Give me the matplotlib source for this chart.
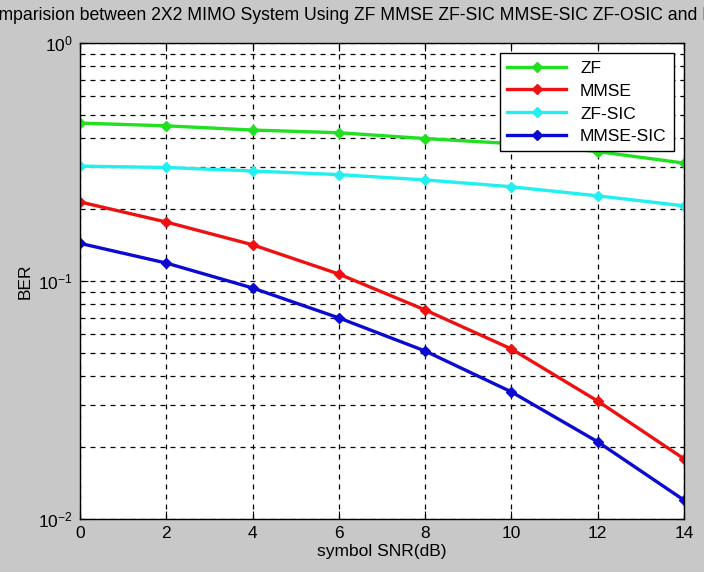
import matplotlib
matplotlib.use("Agg")
import matplotlib.pyplot as plt
from matplotlib.ticker import LogLocator, NullFormatter

plt.rcParams['font.family'] = ['Liberation Sans', 'DejaVu Sans']
plt.rcParams['mathtext.fontset'] = 'custom'
plt.rcParams['mathtext.rm'] = 'Liberation Sans'
plt.rcParams['mathtext.it'] = 'Liberation Sans'

# 数据
snr_db = [0, 2, 4, 6, 8, 10, 12, 14]
ber_zf = [0.461, 0.449, 0.431, 0.420, 0.397, 0.378, 0.350, 0.313]
ber_mmse = [0.215, 0.177, 0.142, 0.107, 0.0756, 0.0518, 0.0313, 0.0179]
ber_zf_sic = [0.304, 0.300, 0.290, 0.280, 0.266, 0.249, 0.228, 0.207]
ber_mmse_sic = [0.144, 0.119, 0.0935, 0.070, 0.0508, 0.0342, 0.0211, 0.0120]

series = [
    ("ZF", ber_zf, "#20e020"),
    ("MMSE", ber_mmse, "#ee1111"),
    ("ZF-SIC", ber_zf_sic, "#22f0f0"),
    ("MMSE-SIC", ber_mmse_sic, "#0a0ad0"),
]

fig = plt.figure(figsize=(7.04, 5.72), dpi=100, facecolor="#c8c8c8")
ax = fig.add_axes([0.1136, 0.0927, 0.858, 0.832])
ax.set_facecolor("white")

for name, vals, color in series:
    ax.semilogy(snr_db, vals, "-", color=color, linewidth=2.4,
                marker="D", markersize=5, label=name)

ax.set_xlim(0, 14)
ax.set_ylim(1e-2, 1)
ax.set_xticks(snr_db)
ax.yaxis.set_major_locator(LogLocator(base=10, numticks=5))
ax.yaxis.set_minor_locator(LogLocator(base=10, subs=range(2, 10), numticks=20))
ax.yaxis.set_minor_formatter(NullFormatter())

ax.grid(True, which="major", color="black", linestyle=(0, (4, 4)), linewidth=0.9)
ax.grid(True, which="minor", axis="y", color="black", linestyle=(0, (4, 4)), linewidth=0.9)

ax.tick_params(which="both", direction="in", top=True, right=True, labelsize=12.5)
ax.tick_params(which="major", length=6, pad=5)
ax.tick_params(which="minor", length=3)
for s in ax.spines.values():
    s.set_linewidth(1.0)

ax.set_xlabel("symbol SNR(dB)", fontsize=12.5, labelpad=2)
ax.set_ylabel("BER", fontsize=12.5, labelpad=4)

fig.text(0.554, 0.973,
         "Comparision between 2X2 MIMO System Using ZF MMSE ZF-SIC MMSE-SIC ZF-OSIC and MMSE-OSIC",
         ha="center", va="center", fontsize=12.7)

leg = ax.legend(loc="upper right", fontsize=12.5, fancybox=False, framealpha=1,
                edgecolor="black", borderaxespad=0.6, handlelength=3.4,
                labelspacing=0.45, borderpad=0.4)
leg.get_frame().set_linewidth(1.0)

fig.savefig("out.png", dpi=100, facecolor=fig.get_facecolor())
